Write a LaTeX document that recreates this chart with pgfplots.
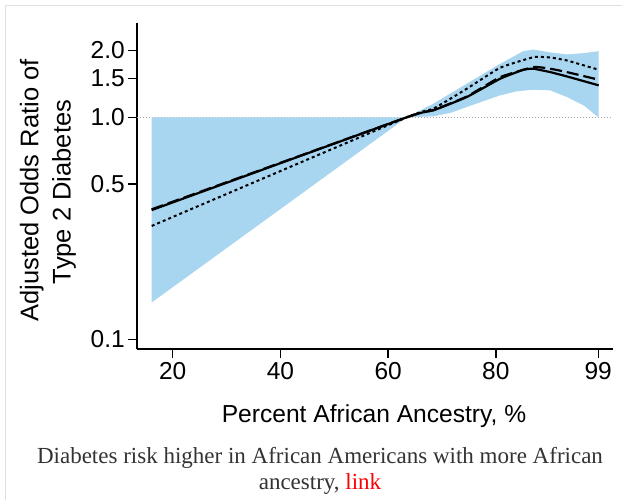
\documentclass[border=0pt]{standalone}
\usepackage{fontspec}
\setmainfont{Liberation Sans}
\newfontfamily\capfont{Liberation Serif}
\usepackage{pgfplots}
\pgfplotsset{compat=1.18}
\definecolor{bandblue}{RGB}{168,213,240}
\definecolor{capgray}{RGB}{51,51,51}
\begin{document}
\begin{tikzpicture}[x=1bp,y=1bp]
\useasboundingbox (0,0) rectangle (622,500);
\fill[white] (0,0) rectangle (622,500);
\draw[black!12, line width=1.5bp] (5.5,0) -- (5.5,494.5) -- (622,494.5);
\begin{axis}[
  at={(137bp,151bp)}, anchor=south west, scale only axis,
  width=475.7bp, height=326bp,
  xmin=13.37, xmax=101.7, ymode=log, ymin=0.0904, ymax=2.66,
  axis x line*=bottom, axis y line*=left,
  xtick={20,40,60,80,99}, xticklabels={20,40,60,80,99},
  ytick={0.1,0.5,1,1.5,2}, yticklabels={0.1,0.5,1.0,1.5,2.0},
  yminorticks=false, xminorticks=false,
  tick align=outside, major tick length=9bp,
  every tick/.style={black, line width=1.3bp},
  axis line style={black, line width=1.3bp},
  tick label style={font=\fontsize{24.5bp}{28bp}\selectfont, /pgf/number format/assume math mode=true},
  yticklabel style={inner sep=3bp},
  xticklabel style={inner sep=4bp},
]
\addplot[black!35, dotted, line width=1bp] coordinates {(13.37,1) (101.7,1)};
\addplot[fill=bandblue, draw=none] coordinates {
 (16.1,1.0) (63.47,1.0) (68.41,1.152) (74.6,1.417) (80.8,1.742) (85.1,1.986) (87.0,2.02) (90.1,1.96) (93.2,1.92) (96.3,1.945) (99.1,1.986)
 (99.1,0.997) (96.3,1.132) (93.2,1.234) (90.1,1.322) (87.0,1.331) (83.9,1.31) (80.8,1.256) (74.6,1.113) (71.5,1.046) (68.41,1.01) (63.47,1.0) (16.1,0.1465)
} -- cycle;
\addplot[black, line width=2.2bp, smooth, tension=0.25] coordinates {
 (16.1,0.382) (63.47,1.0) (68.41,1.075) (74.6,1.234) (80.8,1.492) (85.1,1.637) (87.0,1.655) (90.1,1.598) (93.2,1.528) (99.1,1.393)};
\addplot[black, line width=2.2bp, dash pattern=on 12bp off 5bp, smooth, tension=0.25] coordinates {
 (16.1,0.385) (63.47,1.0) (68.41,1.078) (74.6,1.24) (80.8,1.517) (87.0,1.683) (90.1,1.655) (93.2,1.598) (99.1,1.477)};
\addplot[black, line width=2bp, dash pattern=on 3bp off 3bp, smooth, tension=0.25] coordinates {
 (16.1,0.324) (63.47,1.0) (68.41,1.094) (74.6,1.345) (80.8,1.672) (87.0,1.866) (90.1,1.86) (93.2,1.803) (99.1,1.637)};
\end{axis}
\node[anchor=base, font=\fontsize{24.6bp}{28bp}\selectfont] at (374,77) {Percent African Ancestry, \%};
\node[rotate=90, anchor=base, font=\fontsize{25.5bp}{28bp}\selectfont] at (38.3,309.5) {Adjusted Odds Ratio of};
\node[rotate=90, anchor=base, font=\fontsize{25.5bp}{28bp}\selectfont] at (70.5,308) {Type 2 Diabetes};
\node[anchor=base, font=\capfont\fontsize{23bp}{27bp}\selectfont, text=capgray] at (320,36) {Diabetes risk higher in African Americans with more African};
\node[anchor=base, font=\capfont\fontsize{23bp}{27bp}\selectfont, text=capgray] at (320,10) {ancestry, \textcolor{red}{link}};
\end{tikzpicture}
\end{document}
